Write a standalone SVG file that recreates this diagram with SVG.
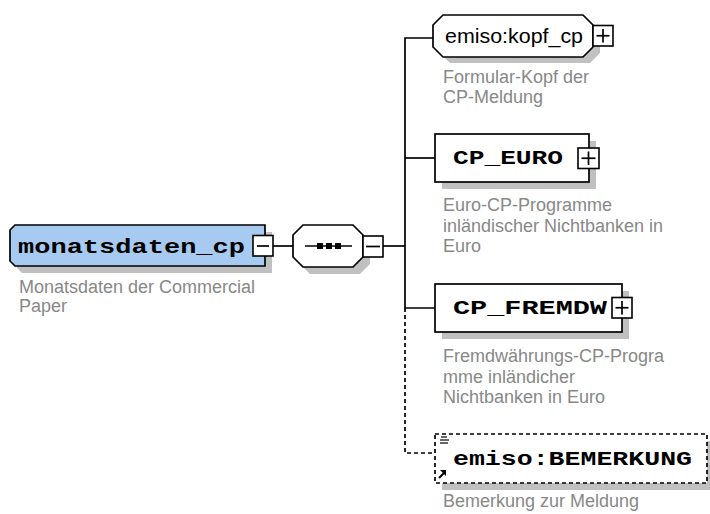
<svg xmlns="http://www.w3.org/2000/svg" width="710" height="514" viewBox="0 0 710 514">
<style>
.ln{fill:none;stroke:#000;stroke-width:1.7}
.dl{fill:none;stroke:#000;stroke-width:1.7;stroke-dasharray:4,3}
.sh{fill:#c0c0c0}
.bx{fill:#fff;stroke:#000;stroke-width:1.7}
.xb{fill:#fff;stroke:#000;stroke-width:1.6}
.nm{font-family:"Liberation Mono",monospace;font-weight:bold;font-size:20px;fill:#000}
.ds{font-family:"Liberation Sans",Arial,sans-serif;font-size:18px;fill:#888}
.rf{font-family:"Liberation Sans",Arial,sans-serif;font-size:20px;fill:#000}
</style>
<rect width="710" height="514" fill="#fff"/>
<g id="connectors">
<line class="ln" x1="273" y1="246" x2="293" y2="246"/>
<line class="ln" x1="383" y1="246" x2="405" y2="246"/>
<polyline class="ln" points="433,38 405,38 405,308 435,308"/>
<line class="ln" x1="405" y1="158" x2="435" y2="158"/>
<polyline class="dl" points="405,308 405,453 435,453"/>
</g>
<g id="monatsdaten_cp">
<path class="sh" d="M22,232 H272 V273 H22 L17,268 V237 Z"/>
<path d="M15,225 H265 V266 H15 L10,261 V230 Z" fill="#a6caf0" stroke="#000" stroke-width="1.7"/>
<text class="nm" x="18" y="253" textLength="227" lengthAdjust="spacingAndGlyphs">monatsdaten_cp</text>
<rect class="xb" x="253" y="235.5" width="20" height="20.5"/>
<line class="ln" x1="257" y1="246" x2="269" y2="246"/>
<text class="ds" x="19" y="293">Monatsdaten der Commercial</text>
<text class="ds" x="19" y="312">Paper</text>
</g>
<g id="sequence">
<polygon class="sh" points="310,232 360,232 370,242 370,264 360,274 310,274 300,264 300,242"/>
<polygon class="bx" points="303,225 353,225 363,235 363,257 353,267 303,267 293,257 293,235"/>
<line class="ln" x1="305" y1="246" x2="352" y2="246"/>
<rect x="317" y="243" width="6" height="6" fill="#000"/>
<rect x="326" y="243" width="6" height="6" fill="#000"/>
<rect x="335" y="243" width="6" height="6" fill="#000"/>
<rect class="xb" x="363" y="236" width="20" height="21"/>
<line class="ln" x1="366" y1="246.5" x2="380" y2="246.5"/>
</g>
<g id="kopf_cp">
<polygon class="sh" points="450,21 590,21 600,31 600,53 590,63 450,63 440,53 440,31"/>
<polygon class="bx" points="443,15 583,15 593,25 593,47 583,57 443,57 433,47 433,25"/>
<text class="rf" x="445" y="43" textLength="138" lengthAdjust="spacingAndGlyphs">emiso:kopf_cp</text>
<rect class="xb" x="593" y="25.5" width="20" height="20.5"/>
<line class="ln" x1="596.5" y1="35.75" x2="609.5" y2="35.75"/>
<line class="ln" x1="603" y1="29" x2="603" y2="42.5"/>
<text class="ds" x="443" y="83">Formular-Kopf der</text>
<text class="ds" x="443" y="103">CP-Meldung</text>
</g>
<g id="CP_EURO">
<rect class="sh" x="442" y="141" width="154" height="48"/>
<rect class="bx" x="435" y="134" width="154" height="48"/>
<text class="nm" x="453" y="164" textLength="110" lengthAdjust="spacingAndGlyphs">CP_EURO</text>
<rect class="xb" x="578" y="148" width="21" height="20.5"/>
<line class="ln" x1="581.5" y1="158.25" x2="595.5" y2="158.25"/>
<line class="ln" x1="588.5" y1="151.5" x2="588.5" y2="165"/>
<text class="ds" x="443" y="211">Euro-CP-Programme</text>
<text class="ds" x="443" y="231.5">inländischer Nichtbanken in</text>
<text class="ds" x="443" y="252">Euro</text>
</g>
<g id="CP_FREMDW">
<rect class="sh" x="442" y="291" width="187" height="48"/>
<rect class="bx" x="435" y="284" width="187" height="48"/>
<text class="nm" x="453" y="314" textLength="154" lengthAdjust="spacingAndGlyphs">CP_FREMDW</text>
<rect class="xb" x="612" y="297.5" width="20" height="20.5"/>
<line class="ln" x1="615.5" y1="307.75" x2="628.5" y2="307.75"/>
<line class="ln" x1="622" y1="301" x2="622" y2="314.5"/>
<text class="ds" x="443" y="362">Fremdwährungs-CP-Progra</text>
<text class="ds" x="443" y="382.5">mme inländicher</text>
<text class="ds" x="443" y="403">Nichtbanken in Euro</text>
</g>
<g id="emiso_BEMERKUNG">
<rect class="sh" x="442" y="441" width="272" height="49"/>
<rect x="435" y="434" width="272" height="49" fill="#fff" stroke="#000" stroke-width="1.7" stroke-dasharray="4,3"/>
<g stroke="#000" stroke-width="1.2">
<line x1="441" y1="437" x2="447" y2="437"/>
<line x1="440" y1="440" x2="449" y2="440"/>
<line x1="440" y1="443" x2="448" y2="443"/>
</g>
<path d="M439,478 L445,472" stroke="#000" stroke-width="2"/>
<polygon points="446,470 446,476 440,470" fill="#000"/>
<text class="nm" x="453" y="465" textLength="239" lengthAdjust="spacingAndGlyphs">emiso:BEMERKUNG</text>
<text class="ds" x="443" y="507">Bemerkung zur Meldung</text>
</g>
</svg>
